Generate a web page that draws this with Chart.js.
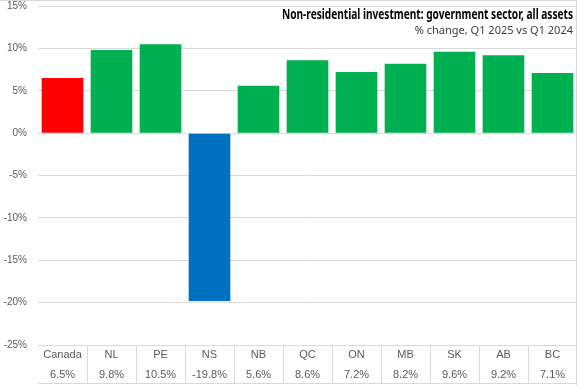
<!DOCTYPE html>
<html>
<head>
<meta charset="utf-8">
<script src="https://cdn.jsdelivr.net/npm/chart.js@4"></script>
<style>
    body { margin: 0; background: #fff; }
    #wrap { width: 577px; height: 385px; position: relative; }
</style>
</head>
<body>
<div id="wrap"><canvas id="invest_Chart"></canvas></div>
<script>
const regions = ["Canada", "NL", "PE", "NS", "NB", "QC", "ON", "MB", "SK", "AB", "BC"];
const pctChange = [6.5, 9.8, 10.5, -19.8, 5.6, 8.6, 7.2, 8.2, 9.6, 9.2, 7.1];
const yTicks = [15, 10, 5, 0, -5, -10, -15, -20, -25];
const titleText = "Non-residential investment: government sector, all assets";
const subtitleText = "% change, Q1 2025 vs Q1 2024";

let barColors = [];
for (let i = 0; i < pctChange.length; i++) {
    if (regions[i] === "Canada") {
        barColors.push("#FF0000");
    } else if (pctChange[i] < 0) {
        barColors.push("#0070C0");
    } else {
        barColors.push("#00B050");
    }
}

// x labels: region name + value on a second line
let xLabels = [];
for (let i = 0; i < regions.length; i++) {
    xLabels.push([regions[i], pctChange[i].toFixed(1) + "%"]);
}

const frame = {
    id: "frame",
    afterDraw(chart) {
        const ctx = chart.ctx;
        const a = chart.chartArea;
        const xs = chart.scales.x;
        const half = (xs.getPixelForValue(1) - xs.getPixelForValue(0)) / 2;
        ctx.save();
        ctx.strokeStyle = "#d9d9d9";
        ctx.lineWidth = 1;
        ctx.beginPath();
        // outer frame
        ctx.moveTo(0, 0.5);
        ctx.lineTo(chart.width, 0.5);
        ctx.moveTo(chart.width - 0.5, 0);
        ctx.lineTo(chart.width - 0.5, chart.height);
        // data table under the axis
        ctx.moveTo(a.left, chart.height - 1.5);
        ctx.lineTo(chart.width, chart.height - 1.5);
        for (let i = 1; i < regions.length; i++) {
            const x = Math.round(xs.getPixelForValue(i) - half) + 0.5;
            ctx.moveTo(x, a.bottom);
            ctx.lineTo(x, chart.height - 1);
        }
        ctx.stroke();

        ctx.textAlign = "right";
        ctx.textBaseline = "middle";
        ctx.fillStyle = "#000";
        ctx.font = "bold 15px 'Liberation Sans Narrow', 'Noto Sans'";
        ctx.fillText(titleText, 573, 15, 291);
        ctx.fillStyle = "#404040";
        ctx.font = "11px 'Noto Sans'";
        ctx.fillText(subtitleText, 573, 31, 164);
        ctx.restore();
    }
};

new Chart("invest_Chart", {
    type: "bar",
    data: {
        labels: xLabels,
        datasets: [{
            data: pctChange,
            backgroundColor: barColors,
            categoryPercentage: 1,
            barPercentage: 0.85
        }]
    },
    options: {
        responsive: true,
        maintainAspectRatio: false,
        animation: false,
        layout: { padding: { top: 1, right: 0, left: 2, bottom: 0 } },
        plugins: {
            legend: { display: false },
            tooltip: { enabled: false }
        },
        scales: {
            x: {
                border: { display: false },
                grid: { display: false, drawTicks: false },
                ticks: {
                    color: "#595959",
                    font: { family: "'Liberation Sans'", size: 11, lineHeight: "20px" },
                    padding: 0,
                    maxRotation: 0,
                    autoSkip: false
                }
            },
            y: {
                min: -25,
                max: 15,
                border: { display: false },
                grid: { color: "#d9d9d9", drawTicks: false },
                afterBuildTicks: (axis) => {
                    axis.ticks = yTicks.map(v => ({ value: v }));
                },
                afterFit: (axis) => {
                    axis.width = 36;
                    axis.paddingTop = 6;
                    axis.paddingBottom = 6;
                },
                ticks: {
                    color: "#595959",
                    font: { family: "'Liberation Sans'", size: 10 },
                    padding: 11,
                    callback: (v) => v + "%"
                }
            }
        }
    },
    plugins: [frame]
});
</script>
</body>
</html>
